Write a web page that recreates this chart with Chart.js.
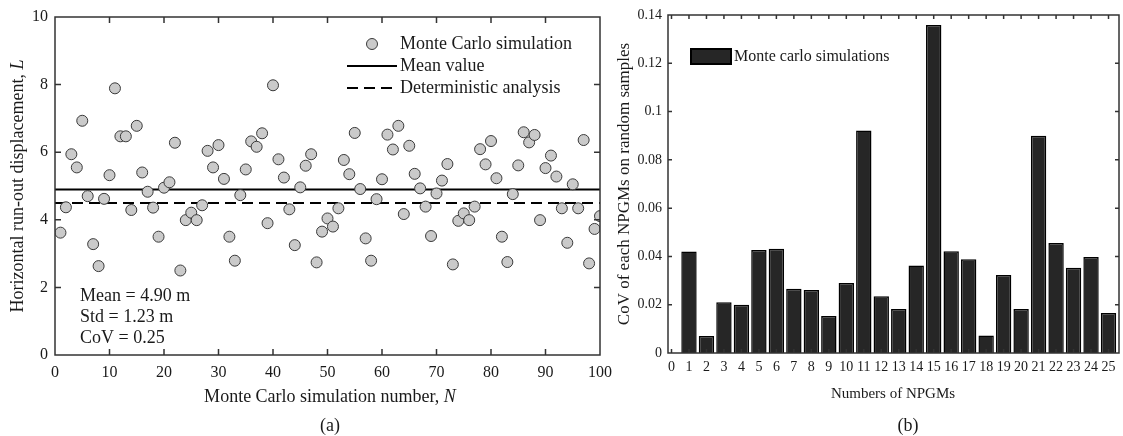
<!DOCTYPE html>
<html lang="en">
<head>
<meta charset="UTF-8">
<title>Monte Carlo run-out displacement and CoV of NPGMs</title>
<script src="https://cdn.jsdelivr.net/npm/chart.js"></script>
<style>
  html, body { margin: 0; padding: 0; background: #fff; }
  body { width: 1123px; height: 436px; position: relative; overflow: hidden; }
  .panel { position: absolute; top: 0; height: 436px; }
  #panelA { left: 0; width: 620px; }
  #panelB { left: 610px; width: 513px; }
</style>
</head>
<body>
<div class="panel" id="panelA"><canvas id="chartA"></canvas></div>
<div class="panel" id="panelB"><canvas id="chartB"></canvas></div>

<script>
// (a) run-out displacement L of each Monte Carlo run, N = 1..100
const simValues = [
  3.62, 4.37, 5.94, 5.55, 6.93, 4.70, 3.28, 2.63, 4.62, 5.32,
  7.89, 6.47, 6.47, 4.29, 6.78, 5.40, 4.83, 4.36, 3.50, 4.95,
  5.11, 6.28, 2.50, 3.99, 4.21, 3.99, 4.43, 6.04, 5.55, 6.21,
  5.21, 3.50, 2.79, 4.73, 5.49, 6.32, 6.16, 6.56, 3.90, 7.98,
  5.79, 5.25, 4.31, 3.25, 4.96, 5.60, 5.94, 2.74, 3.65, 4.04,
  3.80, 4.34, 5.77, 5.35, 6.57, 4.91, 3.45, 2.79, 4.61, 5.20,
  6.52, 6.08, 6.78, 4.17, 6.19, 5.36, 4.93, 4.39, 3.52, 4.78,
  5.16, 5.65, 2.68, 3.97, 4.19, 3.99, 4.39, 6.09, 5.64, 6.33,
  5.23, 3.50, 2.75, 4.76, 5.61, 6.59, 6.29, 6.51, 3.99, 5.53,
  5.90, 5.28, 4.34, 3.32, 5.05, 4.34, 6.36, 2.71, 3.73, 4.11
];
const simNumbers = simValues.map((_, i) => i + 1);
const meanValue = 4.90;
const deterministicValue = 4.5;
const statLines = ['Mean = 4.90 m', 'Std = 1.23 m', 'CoV = 0.25'];

// (b) CoV of each NPGM
const npgmNumbers = [1, 2, 3, 4, 5, 6, 7, 8, 9, 10, 11, 12, 13, 14, 15, 16, 17, 18, 19, 20, 21, 22, 23, 24, 25];
const npgmCoV = [
  0.0420, 0.0070, 0.0210, 0.0200, 0.0427, 0.0432, 0.0266, 0.0261, 0.0153, 0.0290,
  0.0922, 0.0235, 0.0182, 0.0362, 0.1359, 0.0421, 0.0388, 0.0073, 0.0323, 0.0182,
  0.0900, 0.0456, 0.0353, 0.0398, 0.0166
];

const SERIF = '"Liberation Serif", "Times New Roman", serif';
const INK = '#1a1a1a';

Chart.defaults.font.family = SERIF;
Chart.defaults.color = INK;
Chart.defaults.animation = false;

// text with italic pieces, e.g. axis titles "..., N"
function drawRich(ctx, parts, x, y, size, align, rotate) {
  ctx.save();
  ctx.translate(x, y);
  if (rotate) ctx.rotate(rotate);
  const fonts = parts.map(p => (p.i ? 'italic ' : '') + size + 'px ' + SERIF);
  let total = 0;
  const widths = parts.map((p, k) => {
    ctx.font = fonts[k];
    const w = ctx.measureText(p.t).width;
    total += w;
    return w;
  });
  let cx = align === 'center' ? -total / 2 : (align === 'right' ? -total : 0);
  ctx.textAlign = 'left';
  ctx.textBaseline = 'middle';
  ctx.fillStyle = INK;
  parts.forEach((p, k) => {
    ctx.font = fonts[k];
    ctx.fillText(p.t, cx, 0);
    cx += widths[k];
  });
  ctx.restore();
}

// matlab-like box with inward ticks on all four sides
const boxTicks = {
  id: 'boxTicks',
  afterDraw(chart, args, opts) {
    const { ctx, chartArea: a, scales } = chart;
    ctx.save();
    ctx.strokeStyle = '#333';
    ctx.lineWidth = 1.5;
    ctx.beginPath();
    scales.x.ticks.forEach(t => {
      const px = scales.x.getPixelForValue(t.value);
      if (px <= a.left + 1 || px >= a.right - 1) return;
      ctx.moveTo(px, a.bottom); ctx.lineTo(px, a.bottom - opts.len);
      ctx.moveTo(px, a.top); ctx.lineTo(px, a.top + opts.len);
    });
    scales.y.ticks.forEach(t => {
      const py = scales.y.getPixelForValue(t.value);
      if (py <= a.top + 1 || py >= a.bottom - 1) return;
      ctx.moveTo(a.left, py); ctx.lineTo(a.left + opts.len, py);
      ctx.moveTo(a.right, py); ctx.lineTo(a.right - opts.len, py);
    });
    ctx.stroke();
    ctx.strokeRect(a.left, a.top, a.right - a.left, a.bottom - a.top);
    ctx.restore();
  }
};

const textLayer = {
  id: 'textLayer',
  afterDraw(chart, args, opts) {
    opts.items.forEach(it => drawRich(chart.ctx, it.parts, it.x, it.y, it.size, it.align, it.rotate));
  }
};

const integerTicks = scale => {
  scale.ticks = scale.ticks.filter(t => Math.abs(t.value - Math.round(t.value)) < 1e-6);
};

// ---------- (a) ----------
const legendA = {
  id: 'legendA',
  afterDraw(chart) {
    const ctx = chart.ctx;
    const ds = chart.data.datasets;
    ctx.save();
    // marker
    ctx.beginPath();
    ctx.arc(372, 44, ds[0].pointRadius, 0, Math.PI * 2);
    ctx.fillStyle = ds[0].backgroundColor;
    ctx.fill();
    ctx.lineWidth = ds[0].borderWidth;
    ctx.strokeStyle = ds[0].borderColor;
    ctx.stroke();
    // line samples
    [[ds[1], 66], [ds[2], 88]].forEach(([d, y]) => {
      ctx.beginPath();
      ctx.setLineDash(d.borderDash || []);
      ctx.lineWidth = d.borderWidth;
      ctx.strokeStyle = d.borderColor;
      ctx.moveTo(347, y); ctx.lineTo(397, y);
      ctx.stroke();
    });
    ctx.restore();
    [ds[0], ds[1], ds[2]].forEach((d, k) =>
      drawRich(ctx, [{ t: d.label }], 400, 44 + k * 22, 18, 'left'));
  }
};

new Chart(document.getElementById('chartA'), {
  type: 'scatter',
  data: {
    datasets: [
      {
        label: 'Monte Carlo simulation',
        data: simNumbers.map((n, i) => ({ x: n, y: simValues[i] })),
        pointRadius: 5.5,
        pointBackgroundColor: '#cacaca',
        backgroundColor: '#cacaca',
        borderColor: '#3a3a3a',
        borderWidth: 1
      },
      {
        label: 'Mean value',
        data: [{ x: 0, y: meanValue }, { x: 100, y: meanValue }],
        showLine: true,
        pointRadius: 0,
        borderColor: '#000',
        borderWidth: 2
      },
      {
        label: 'Deterministic analysis',
        data: [{ x: 0, y: deterministicValue }, { x: 100, y: deterministicValue }],
        showLine: true,
        pointRadius: 0,
        borderColor: '#000',
        borderWidth: 2,
        borderDash: [11, 6]
      }
    ]
  },
  options: {
    responsive: true,
    maintainAspectRatio: false,
    layout: { padding: { top: 17, right: 17, left: 0, bottom: 0 } },
    scales: {
      x: {
        type: 'linear', min: 0, max: 100,
        ticks: { stepSize: 10, padding: 8, font: { size: 16 }, color: INK, maxRotation: 0 },
        grid: { display: false, drawTicks: false },
        border: { display: false },
        afterFit: s => { s.height = 81; }
      },
      y: {
        min: 0, max: 10,
        ticks: { stepSize: 2, padding: 7, font: { size: 16 }, color: INK },
        grid: { display: false, drawTicks: false },
        border: { display: false },
        afterFit: s => { s.width = 55; }
      }
    },
    plugins: {
      legend: { display: false },
      tooltip: { enabled: false },
      boxTicks: { len: 6 },
      textLayer: {
        items: [
          { parts: [{ t: 'Monte Carlo simulation number, ' }, { t: 'N', i: true }], x: 330, y: 397, size: 18, align: 'center' },
          { parts: [{ t: 'Horizontal run-out displacement, ' }, { t: 'L', i: true }], x: 18, y: 186, size: 18, align: 'center', rotate: -Math.PI / 2 },
          { parts: [{ t: '(a)' }], x: 330, y: 426, size: 18, align: 'center' },
          ...statLines.map((s, k) => ({ parts: [{ t: s }], x: 80, y: 296 + k * 21, size: 18, align: 'left' }))
        ]
      }
    }
  },
  plugins: [boxTicks, textLayer, legendA]
});

// ---------- (b) ----------
const legendB = {
  id: 'legendB',
  afterDraw(chart) {
    const ctx = chart.ctx;
    const d = chart.data.datasets[0];
    ctx.save();
    ctx.fillStyle = d.backgroundColor;
    ctx.fillRect(81, 49, 40, 15);
    ctx.lineWidth = 2;
    ctx.strokeStyle = d.borderColor;
    ctx.strokeRect(81, 49, 40, 15);
    ctx.restore();
    drawRich(ctx, [{ t: d.label }], 124, 57, 16, 'left');
  }
};

new Chart(document.getElementById('chartB'), {
  type: 'bar',
  data: {
    datasets: [{
      label: 'Monte carlo simulations',
      data: npgmNumbers.map((n, i) => ({ x: n, y: npgmCoV[i] })),
      backgroundColor: '#262626',
      borderColor: '#000',
      borderWidth: 1.5,
      categoryPercentage: 1,
      barPercentage: 0.88
    }]
  },
  options: {
    responsive: true,
    maintainAspectRatio: false,
    layout: { padding: { top: 15, right: 4, left: 0, bottom: 0 } },
    scales: {
      x: {
        type: 'linear', min: -0.2, max: 25.6, offset: false,
        afterBuildTicks: integerTicks,
        ticks: { stepSize: 1, includeBounds: false, padding: 6, font: { size: 14 }, color: INK, maxRotation: 0, autoSkip: false },
        grid: { display: false, drawTicks: false },
        border: { display: false },
        afterFit: s => { s.height = 83; }
      },
      y: {
        min: 0, max: 0.14,
        ticks: { stepSize: 0.02, padding: 6, font: { size: 14 }, color: INK, callback: v => String(+v.toFixed(2)) },
        grid: { display: false, drawTicks: false },
        border: { display: false },
        afterFit: s => { s.width = 58; }
      }
    },
    plugins: {
      legend: { display: false },
      tooltip: { enabled: false },
      boxTicks: { len: 4 },
      textLayer: {
        items: [
          { parts: [{ t: 'Numbers of NPGMs' }], x: 283, y: 394, size: 15, align: 'center' },
          { parts: [{ t: 'CoV of each NPGMs on random samples' }], x: 15, y: 184, size: 17, align: 'center', rotate: -Math.PI / 2 },
          { parts: [{ t: '(b)' }], x: 298, y: 426, size: 18, align: 'center' }
        ]
      }
    }
  },
  plugins: [boxTicks, textLayer, legendB]
});
</script>
</body>
</html>
